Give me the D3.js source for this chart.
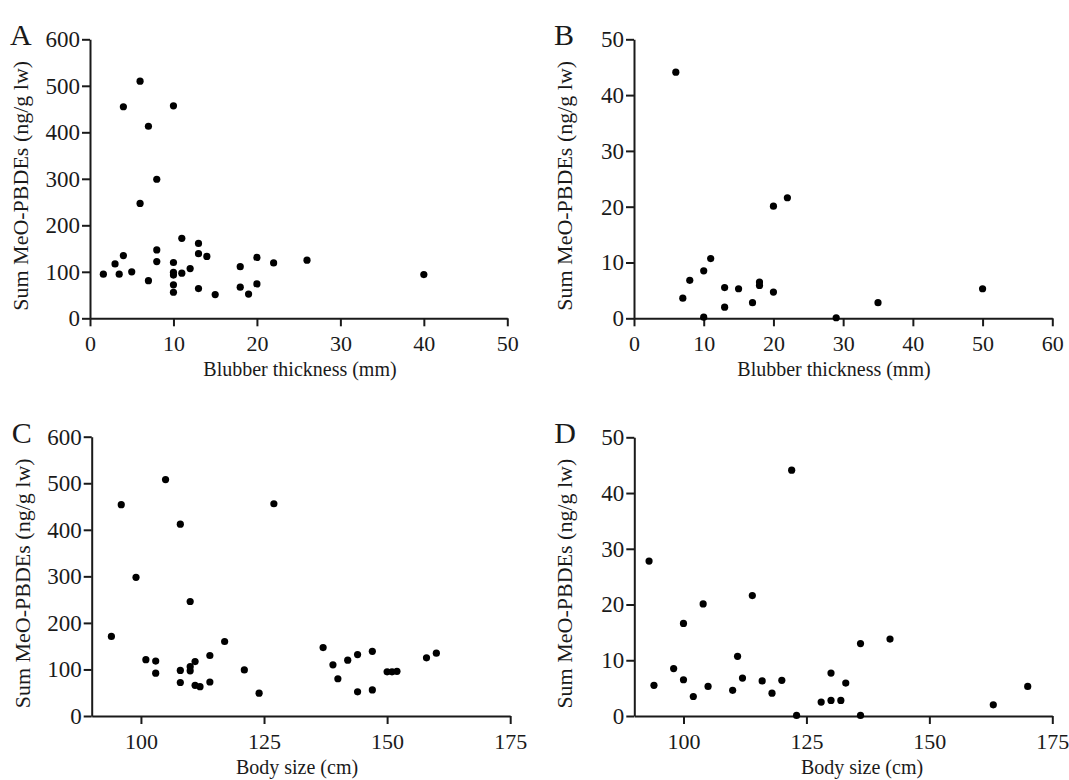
<!DOCTYPE html>
<html><head><meta charset="utf-8">
<script src="https://cdn.jsdelivr.net/npm/d3@7"></script>
<style>
html,body{margin:0;padding:0;background:#fff;}
svg text{font-family:"Liberation Serif","Times New Roman",serif;fill:#1a1a1a;}
</style></head>
<body>
<svg id="chart" width="1069" height="780"></svg>
<script>
// ---- data ----
const blubberA = [1.6,3,3.5,4,4,5,6,6,7,7,8,8,8,10,10,10,10,10,10,11,11,12,13,13,13,14,15,18,18,19,20,20,22,26,40];
const sumA = [95,117,95,135,455,100,510,247,413,81,299,147,122,457,120,99,93,72,56,172,97,107,161,139,64,133,51,111,67,52,131,74,119,125,94];
const blubberB = [6,7,8,10,10,11,13,13,15,17,18,18,20,20,22,29,35,50];
const sumB = [44.1,3.6,6.8,8.5,0.2,10.7,5.5,2.0,5.3,2.8,6.5,5.9,20.1,4.7,21.6,0.1,2.8,5.3];
const sizeC = [94,96,99,101,103,103,105,108,108,108,110,110,110,111,111,112,114,114,117,121,124,127,137,139,140,142,144,144,147,147,150,151,152,158,160];
const sumC = [171,454,298,121,118,92,508,412,98,72,246,106,97,117,66,63,130,73,160,99,49,456,147,110,80,120,132,52,139,56,95,95,96,125,135];
const sizeD = [93,94,98,100,100,102,104,105,110,111,112,114,116,118,120,122,123,128,130,130,132,133,136,136,142,163,170];
const sumD = [27.8,5.5,8.5,16.6,6.5,3.5,20.1,5.3,4.6,10.7,6.8,21.6,6.3,4.1,6.4,44.1,0.1,2.5,7.7,2.8,2.8,5.9,13.0,0.1,13.8,2.0,5.3];

const ticksBlubberA = [0,10,20,30,40,50];
const ticksBlubberB = [0,10,20,30,40,50,60];
const ticksSize = [100,125,150,175];
const ticksSumHigh = [0,100,200,300,400,500,600];
const ticksSumLow = [0,10,20,30,40,50];

const panelLetters = ["A","B","C","D"];
const yTitle = "Sum MeO-PBDEs (ng/g lw)";
const xTitles = ["Blubber thickness (mm)","Blubber thickness (mm)","Body size (cm)","Body size (cm)"];

// ---- layout ----
const panels = [
  {letter:panelLetters[0], xs:blubberA, ys:sumA, xd:[0,50], yd:[0,600], xt:ticksBlubberA, yt:ticksSumHigh, xr:[90,507.3], yr:[318.3,39.3], xTitle:xTitles[0], xtc:300},
  {letter:panelLetters[1], xs:blubberB, ys:sumB, xd:[0,60], yd:[0,50], xt:ticksBlubberB, yt:ticksSumLow, xr:[634,1052.3], yr:[318.3,39.3], xTitle:xTitles[1], xtc:834},
  {letter:panelLetters[2], xs:sizeC, ys:sumC, xd:[90,175], yd:[0,600], xt:ticksSize, yt:ticksSumHigh, xr:[91.7,510.2], yr:[716,436.7], xTitle:xTitles[2], xtc:297},
  {letter:panelLetters[3], xs:sizeD, ys:sumD, xd:[90,175], yd:[0,50], xt:ticksSize, yt:ticksSumLow, xr:[634.3,1052.3], yr:[716,437.3], xTitle:xTitles[3], xtc:862}
];

const svg = d3.select("#chart");
const serif = "'Liberation Serif','Times New Roman',serif";

panels.forEach(p => {
  const x = d3.scaleLinear().domain(p.xd).range(p.xr);
  const y = d3.scaleLinear().domain(p.yd).range(p.yr);
  const g = svg.append("g");

  const xa = g.append("g").attr("transform", `translate(0,${p.yr[0]})`)
    .call(d3.axisBottom(x).tickValues(p.xt).tickSize(8).tickPadding(9).tickSizeOuter(0));
  const ya = g.append("g").attr("transform", `translate(${p.xr[0]},0)`)
    .call(d3.axisLeft(y).tickValues(p.yt).tickSize(8).tickPadding(2).tickSizeOuter(0));
  [xa, ya].forEach((a, k) => {
    a.attr("font-family", serif);
    a.selectAll("path").attr("stroke","#1a1a1a").attr("stroke-width",2);
    a.selectAll("line").attr("stroke","#1a1a1a").attr("stroke-width",2);
    a.selectAll("text").attr("font-size", k === 0 ? 22 : 23).attr("fill","#1a1a1a").style("font-family", serif);
  });

  g.append("g").selectAll("circle").data(p.xs.map((v,i)=>[v,p.ys[i]])).join("circle")
    .attr("cx", d=>x(d[0])).attr("cy", d=>y(d[1])).attr("r",3.6).attr("fill","#000");

  // titles
  const ymid = (p.yr[0]+p.yr[1])/2 + 7;
  g.append("text").attr("transform", `translate(${p.xr[0]-62},${ymid}) rotate(-90)`)
    .attr("text-anchor","middle").attr("font-size",22).text(yTitle);
  g.append("text").attr("x", p.xtc).attr("y", p.yr[0]+58)
    .attr("text-anchor","middle").attr("font-size",20).text(p.xTitle);
  g.append("text").attr("x", p.xr[0]-80).attr("y", p.yr[1]+6)
    .attr("font-size",30).text(p.letter);
});
</script>
</body></html>
